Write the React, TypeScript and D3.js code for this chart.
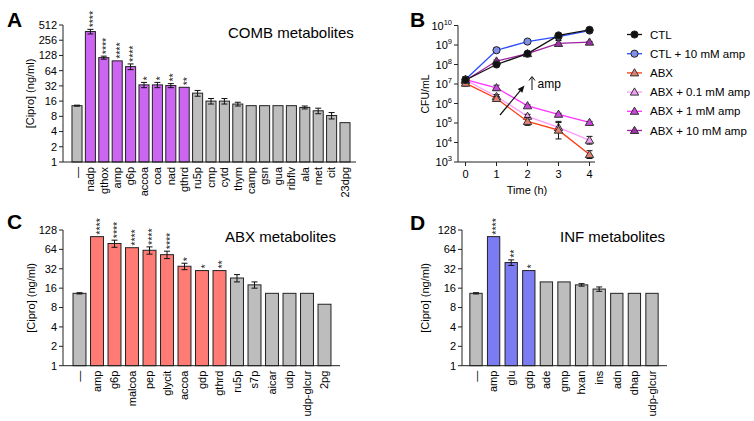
import React from "react";
import * as d3 from "d3";

const FONT = "'Liberation Sans', Arial, Helvetica, sans-serif";

// Panel A: COMB metabolites
const aCats = ["—", "nadp", "gthox", "amp", "g6p", "accoa", "coa", "nad", "gthrd", "ru5p", "cmp", "cytd", "thym", "camp", "gsn", "gua", "ribflv", "ala", "met", "cit", "23dpg"];
const aVals = [13, 380, 116, 100, 77, 33.5, 33.5, 32.5, 30, 23, 16, 16, 14, 13, 13, 13, 13, 12, 10.3, 8.3, 6];
const aErrs = [0.3, 40, 8, 0, 10, 4, 4, 3, 0, 3, 2, 2, 1.2, 0, 0, 0, 0, 0.8, 1.3, 1.2, 0];
const aStars = ["", "****", "****", "****", "****", "*", "*", "**", "**", "", "", "", "", "", "", "", "", "", "", "", ""];
const aHighlight = 9;

// Panel C: ABX metabolites
const cCats = ["—", "amp", "g6p", "malcoa", "pep", "glycit", "accoa", "gdp", "gthrd", "ru5p", "s7p", "aicar", "udp", "udp-glcur", "2pg"];
const cVals = [13.3, 101, 79, 68, 62, 53, 35, 30, 30, 23, 18, 13.3, 13.3, 13.3, 9];
const cErrs = [0.3, 0, 10, 0, 8, 7, 4, 0, 0, 3, 2, 0, 0, 0, 0];
const cStars = ["", "****", "****", "****", "****", "****", "*", "*", "**", "", "", "", "", "", ""];
const cHighlight = 9;

// Panel D: INF metabolites
const dCats = ["—", "amp", "glu", "gdp", "ade", "gmp", "hxan", "ins", "adn", "dhap", "udp-glcur"];
const dVals = [13.3, 101, 40, 30, 20, 20, 18, 15.5, 13.3, 13.3, 13.3];
const dErrs = [0.3, 0, 4, 0, 0, 0, 0.8, 1.2, 0, 0, 0];
const dStars = ["", "****", "**", "*", "", "", "", "", "", "", ""];
const dHighlight = 4;

const aTicks = [1, 2, 4, 8, 16, 32, 64, 128, 256, 512];
const cdTicks = [1, 2, 4, 8, 16, 32, 64, 128];

// Panel B: CFU time course
const bTimes = [0, 1, 2, 3, 4];
const bNames = ["CTL", "CTL + 10 mM amp", "ABX", "ABX + 0.1 mM amp", "ABX + 1 mM amp", "ABX + 10 mM amp"];
const bCTL = [1.6e7, 1.0e8, 3.6e8, 3.1e9, 6.0e9];
const bCTLamp = [1.7e7, 5.4e8, 1.5e9, 2.7e9, 5.5e9];
const bABX = [1.1e7, 1.8e6, 1.2e5, 4.3e4, 2.4e3];
const bABX01 = [1.6e7, 2.3e6, 2.2e5, 5.9e4, 1.3e4];
const bABX1 = [1.7e7, 6.4e6, 7.6e5, 2.8e5, 1.07e5];
const bABX10 = [1.5e7, 1.5e8, 3.6e8, 1.2e9, 1.4e9];
// error half-widths in decades
const bErrCTL = [0.1, 0.04, 0.04, 0.05, 0.04];
const bErrCTLamp = [0.15, 0.12, 0.05, 0.1, 0.04];
const bErrABX = [0.15, 0.1, 0.2, 0.45, 0.2];
const bErrABX01 = [0.1, 0.1, 0.1, 0.25, 0.2];
const bErrABX1 = [0.1, 0.13, 0.05, 0.05, 0.05];
const bErrABX10 = [0.1, 0.05, 0.05, 0.15, 0.04];
const bYTicks = [3, 4, 5, 6, 7, 8, 9, 10];

type BarProps = {
  cats: string[]; vals: number[]; errs: number[]; stars: string[]; hi: number; color: string;
  bandRange: [number, number]; padding: number; axisX: number; axisEnd: number;
  yRange: [number, number]; maxV: number; ticks: number[];
  title: string; titleX: number; titleY: number;
  label: string; labelX: number; labelY: number; ylabelX: number;
};

function BarPanel(p: BarProps) {
  const x = d3.scaleBand<string>().domain(p.cats).range(p.bandRange).paddingInner(p.padding).paddingOuter(p.padding / 2);
  const y = d3.scaleLog().base(2).domain([1, p.maxV]).range(p.yRange);
  const y0 = p.yRange[0];
  const bw = x.bandwidth();
  return (
    <g fontFamily={FONT} fill="#000">
      <text x={p.labelX} y={p.labelY} fontSize={21} fontWeight="bold">{p.label}</text>
      <text x={p.titleX} y={p.titleY} fontSize={15}>{p.title}</text>
      <text transform={`translate(${p.ylabelX},${(p.yRange[0] + p.yRange[1]) / 2}) rotate(-90)`} textAnchor="middle" dy="0.35em" fontSize={11}>[Cipro] (ng/ml)</text>
      {p.cats.map((c, i) => {
        const cx = (x(c) as number) + bw / 2;
        const top = y(p.vals[i]);
        const e = p.errs[i];
        const hiY = e > 0 ? y(p.vals[i] + e) : top;
        const loY = e > 0 ? y(Math.max(p.vals[i] - e, 1.01)) : top;
        return (
          <g key={c}>
            <rect x={x(c)} y={top} width={bw} height={y0 - top} fill={i === 0 ? "#bdbdbd" : i < p.hi ? p.color : "#bdbdbd"} stroke="#222" strokeWidth={1} />
            {e > 0 && (
              <g stroke="#111" strokeWidth={1}>
                <line x1={cx} x2={cx} y1={hiY} y2={loY} />
                <line x1={cx - 3} x2={cx + 3} y1={hiY} y2={hiY} />
                <line x1={cx - 3} x2={cx + 3} y1={loY} y2={loY} />
              </g>
            )}
            {p.stars[i] && (
              <text transform={`translate(${cx},${hiY - 2}) rotate(-90)`} fontSize={10.5} dy="0.62em" textAnchor="start" fill="#222">{p.stars[i]}</text>
            )}
            <text transform={`translate(${cx},${y0 + 5}) rotate(-90)`} fontSize={11} dy="0.35em" textAnchor="end" fill="#000">{c}</text>
          </g>
        );
      })}
      <line x1={p.axisX} x2={p.axisX} y1={p.yRange[1]} y2={y0} stroke="#222" />
      <line x1={p.axisX} x2={p.axisEnd} y1={y0} y2={y0} stroke="#222" />
      {p.ticks.map((t) => (
        <g key={t}>
          <line x1={p.axisX - 4} x2={p.axisX} y1={y(t)} y2={y(t)} stroke="#222" />
          <text x={p.axisX - 6} y={y(t)} dy="0.35em" textAnchor="end" fontSize={11}>{t}</text>
        </g>
      ))}
    </g>
  );
}

function PanelB() {
  const x = d3.scaleLinear().domain([0, 4]).range([465.5, 589.5]);
  const y = d3.scaleLog().domain([1e3, 1e10]).range([162, 25.5]);
  const series = [
    { name: bNames[5], v: bABX10, e: bErrABX10, line: "#a020a0", fill: "#a030a8", shape: "tri" },
    { name: bNames[4], v: bABX1, e: bErrABX1, line: "#ff33ff", fill: "#cc44dd", shape: "tri" },
    { name: bNames[3], v: bABX01, e: bErrABX01, line: "#ff99ff", fill: "#f0a0f0", shape: "tri" },
    { name: bNames[2], v: bABX, e: bErrABX, line: "#ff3a10", fill: "#e08070", shape: "tri" },
    { name: bNames[1], v: bCTLamp, e: bErrCTLamp, line: "#2a4cff", fill: "#8090e8", shape: "circ" },
    { name: bNames[0], v: bCTL, e: bErrCTL, line: "#111111", fill: "#111111", shape: "circ" },
  ];
  const line = d3.line<number>().x((_, i) => x(bTimes[i])).y((v) => y(v));
  const marker = (shape: string, cx: number, cy: number, fill: string, key?: string) =>
    shape === "circ" ? (
      <circle key={key} cx={cx} cy={cy} r={3.6} fill={fill} stroke="#222" strokeWidth={1} />
    ) : (
      <path key={key} d={`M${cx},${cy - 4.2}L${cx + 4.2},${cy + 3}L${cx - 4.2},${cy + 3}Z`} fill={fill} stroke="#333" strokeWidth={1} />
    );
  const legendOrder = [5, 4, 3, 2, 1, 0];
  // arrow
  const ax1 = 500, ay1 = 115, ax2 = 524.5, ay2 = 85.5;
  const ang = Math.atan2(ay2 - ay1, ax2 - ax1);
  const hl = 7, hw = 3;
  const head = `M${ax2},${ay2}L${ax2 - hl * Math.cos(ang) + hw * Math.sin(ang)},${ay2 - hl * Math.sin(ang) - hw * Math.cos(ang)}L${ax2 - hl * Math.cos(ang) - hw * Math.sin(ang)},${ay2 - hl * Math.sin(ang) + hw * Math.cos(ang)}Z`;
  return (
    <g fontFamily={FONT} fill="#000">
      <text x={410} y={27} fontSize={21} fontWeight="bold">B</text>
      <text transform={`translate(425,94) rotate(-90)`} textAnchor="middle" dy="0.35em" fontSize={10.5}>CFU/mL</text>
      <line x1={458} x2={458} y1={25.5} y2={162} stroke="#222" />
      <line x1={458} x2={595} y1={162} y2={162} stroke="#222" />
      {bYTicks.map((t) => (
        <g key={t}>
          <line x1={454} x2={458} y1={y(Math.pow(10, t))} y2={y(Math.pow(10, t))} stroke="#222" />
          <text x={452} y={y(Math.pow(10, t)) + 4} textAnchor="end" fontSize={11}>
            10<tspan fontSize={7.5} dy={-5}>{t}</tspan>
          </text>
        </g>
      ))}
      {bTimes.map((t) => (
        <g key={t}>
          <line x1={x(t)} x2={x(t)} y1={162} y2={166} stroke="#222" />
          <text x={x(t)} y={178} textAnchor="middle" fontSize={11}>{t}</text>
        </g>
      ))}
      <text x={527} y={194} textAnchor="middle" fontSize={11}>Time (h)</text>
      {series.map((s) => (
        <g key={s.name}>
          <path d={line(s.v) as string} fill="none" stroke={s.line} strokeWidth={1.3} />
          {s.v.map((v, i) => {
            const cx = x(bTimes[i]);
            const hi = y(v * Math.pow(10, s.e[i]));
            const lo = y(v / Math.pow(10, s.e[i]));
            return (
              <g key={i} stroke="#111" strokeWidth={1}>
                <line x1={cx} x2={cx} y1={hi} y2={lo} />
                <line x1={cx - 3} x2={cx + 3} y1={hi} y2={hi} />
                <line x1={cx - 3} x2={cx + 3} y1={lo} y2={lo} />
              </g>
            );
          })}
          {s.v.map((v, i) => marker(s.shape, x(bTimes[i]), y(v), s.fill, `m${i}`))}
        </g>
      ))}
      <line x1={ax1} y1={ay1} x2={ax2 - 4 * Math.cos(ang)} y2={ay2 - 4 * Math.sin(ang)} stroke="#111" strokeWidth={1.2} />
      <path d={head} fill="#111" />
      <line x1={532} x2={532} y1={90} y2={77} stroke="#111" strokeWidth={1} />
      <path d="M529,80.5L532,76.5L535,80.5" fill="none" stroke="#111" strokeWidth={1} />
      <text x={537.5} y={88} fontSize={12}>amp</text>
      {legendOrder.map((si, k) => {
        const s = series[si];
        const ly = 34.5 + k * 19.2;
        return (
          <g key={s.name}>
            <line x1={627} x2={642} y1={ly} y2={ly} stroke={s.line} strokeWidth={1.3} />
            {marker(s.shape, 634.5, ly, s.fill)}
            <text x={650} y={ly} dy="0.35em" fontSize={11.5}>{s.name}</text>
          </g>
        );
      })}
    </g>
  );
}

export default function App() {
  return (
    <svg width={754} height={421} style={{ position: "absolute", left: 0, top: 0, background: "#fff" }}>
      <rect width={754} height={421} fill="#fff" />
      <BarPanel cats={aCats} vals={aVals} errs={aErrs} stars={aStars} hi={aHighlight} color="#cc66f2"
        bandRange={[70.3, 351.7]} padding={0.25} axisX={63} axisEnd={356}
        yRange={[162, 25]} maxV={512} ticks={aTicks}
        title="COMB metabolites" titleX={228} titleY={38} label="A" labelX={7} labelY={27} ylabelX={30} />
      <BarPanel cats={cCats} vals={cVals} errs={cErrs} stars={cStars} hi={cHighlight} color="#ff7b74"
        bandRange={[70.75, 333.25]} padding={0.26} axisX={63} axisEnd={340}
        yRange={[365.7, 230]} maxV={128} ticks={cdTicks}
        title="ABX metabolites" titleX={225} titleY={242} label="C" labelX={7} labelY={229} ylabelX={31} />
      <BarPanel cats={dCats} vals={dVals} errs={dErrs} stars={dStars} hi={dHighlight} color="#7b7bf2"
        bandRange={[467.2, 660.8]} padding={0.3} axisX={462} axisEnd={667}
        yRange={[365.7, 230]} maxV={128} ticks={cdTicks}
        title="INF metabolites" titleX={560} titleY={242} label="D" labelX={410} labelY={230} ylabelX={425} />
      <PanelB />
    </svg>
  );
}
